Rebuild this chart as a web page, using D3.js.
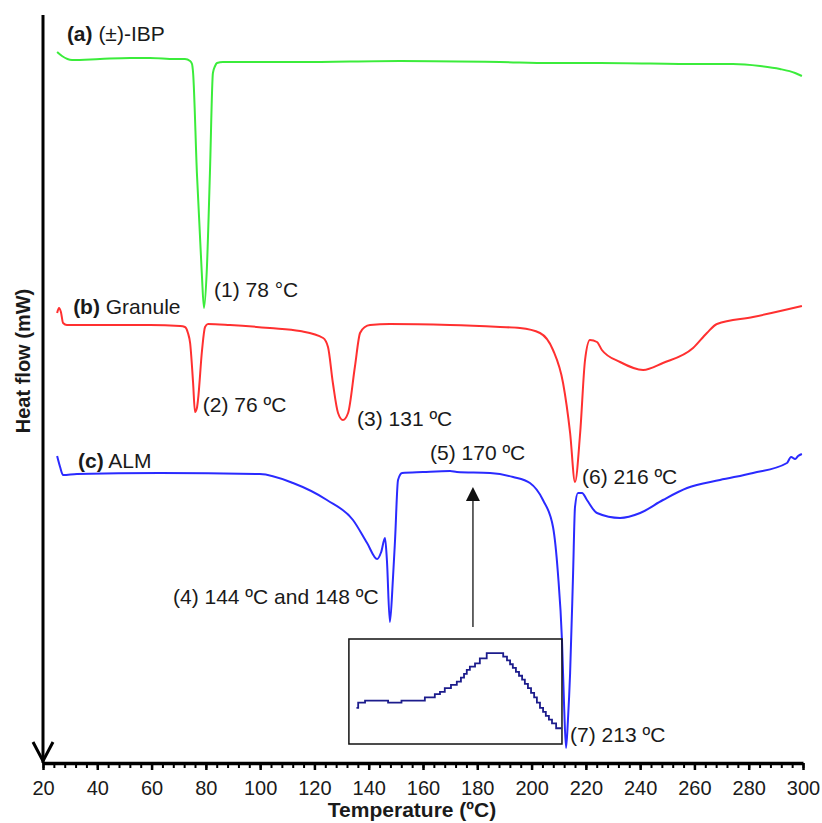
<!DOCTYPE html>
<html><head><meta charset="utf-8">
<script src="https://cdn.jsdelivr.net/npm/d3@7"></script>
<style>
body{margin:0;background:#fff}
svg{display:block}
text{font-family:"Liberation Sans",Arial,Helvetica,sans-serif;fill:#1a1a1a}
</style>
</head><body><svg id="c" width="822" height="823"></svg>
<script>
// ---- data (temperature in ºC, heat flow in arbitrary offset units) ----
const ibpT  = [25.2,27.0,30.7,41.0,52.1,59.4,68.6,72.3,74.2,74.9,75.3,76.7,78.5,79.3,80.3,81.5,82.6,83.4,84.1,86.3,114.7,151.5,188.4,206.8,225.2,262.1,274.2,284.2,291.5,297.1,299.6];
const ibpHF = [713,709,705,706,707,707,706,706,704,701,692,592,492,457,492,592,692,699,702,703,703,704,703,702,702,701,701,699,696,692,689];

const graT  = [25.2,25.9,26.6,27.4,28.8,41.0,59.4,70.5,72.3,73.4,74.2,75.3,76.0,76.7,77.1,78.6,79.7,80.8,88.9,103.6,114.7,123.2,125.0,126.8,128.7,130.5,132.4,134.9,136.8,138.6,140.5,147.8,169.9,188.4,195.7,203.1,207.9,211.6,214.2,216.0,217.9,219.7,221.5,224.1,225.9,232.6,241.1,248.4,259.5,264.6,268.3,281.6,299.6];
const graHF = [452,457,453,442,440,440,440,439,438,432,422,382,353,357,365,415,438,441,440,437,434,427,418,382,352,345,352,398,432,438,440,441,440,438,437,432,415,382,332,283,332,405,425,423,415,403,395,402,417,432,441,448,459];

const almT  = [25.2,26.3,27.4,32.5,63.1,99.9,112.1,124.6,134.2,139.4,143.1,144.6,146.0,146.7,147.8,148.9,149.7,150.8,152.3,160.0,170.0,172.5,184.7,193.2,199.4,204.2,207.9,209.7,211.2,212.0,212.7,213.4,214.2,215.3,216.0,217.1,218.6,220.4,224.1,232.6,240.0,248.4,257.3,269.4,281.6,294.1,295.6,297.1,298.2,299.6];
const almHF = [309,298,290,291,292,291,282,265,245,222,206,213,227,205,143,185,225,285,292,293,294,293,292,288,282,265,238,192,125,58,17,45,92,192,258,272,272,265,252,247,252,265,277,285,292,302,308,306,309,311];

// inset: magnified region around (5) 170 ºC
const insetT   = [152.2,152.7,154.7,161.4,165.3,172.1,175.0,176.5,177.9,179.7,181.4,182.6,183.5,184.3,185.2,186.7,188.1,190.1,194.9,196.0,196.9,197.7,198.6,199.5,200.4,201.2,202.1,203.0,203.9,204.7,205.6,206.5,207.3,208.2,209.1,210.3,211.9];
const insetLvl = [11,12.6,13.2,12.6,13.2,14.2,15.2,15.9,17,18,19,20.2,21.4,22.6,23.6,24.6,26.1,27.7,26.6,25.5,24.3,23.2,22,20.8,19.6,18.3,17,15.6,14.2,12.6,11,9.8,8.6,7.4,6.3,4.8,4.8];

const xTicks = [20,40,60,80,100,120,140,160,180,200,220,240,260,280,300];

const seriesLabels = [
  {tag:"(a)", name:"(±)-IBP", T:28.8, v:724},
  {tag:"(b)", name:"Granule", T:31.1, v:451},
  {tag:"(c)", name:"ALM", T:32.9, v:297}
];
const peakLabels = [
  {text:"(1) 78 °C", T:83.0, v:468},
  {text:"(2) 76 ºC", T:78.9, v:353},
  {text:"(3) 131 ºC", T:135.7, v:339},
  {text:"(4) 144 ºC and 148 ºC", T:67.9, v:161},
  {text:"(5) 170 ºC", T:162.6, v:305},
  {text:"(6) 216 ºC", T:218.6, v:281},
  {text:"(7) 213 ºC", T:214.2, v:23}
];

// ---- drawing ----
const svg = d3.select("#c");
const x = d3.scaleLinear().domain([20,300]).range([43,803]);
const y = d3.scaleLinear().domain([0,750]).range([765,15]);
const axisY = 763;

const line = d3.line().x(d=>x(d[0])).y(d=>y(d[1])).curve(d3.curveMonotoneX);
function draw(T, V, color){
  svg.append("path").datum(T.map((t,i)=>[t,V[i]]))
    .attr("d", line).attr("fill","none").attr("stroke",color)
    .attr("stroke-width",2).attr("stroke-linejoin","round");
}
draw(ibpT, ibpHF, "#3bec3b");
draw(graT, graHF, "#ff3030");
draw(almT, almHF, "#2a2aff");

// inset box
const boxT = [132.7, 211.2], boxV = [21, 126];
svg.append("rect")
  .attr("x", x(boxT[0])).attr("y", y(boxV[1]))
  .attr("width", x(boxT[1])-x(boxT[0])).attr("height", y(boxV[0])-y(boxV[1]))
  .attr("fill","none").attr("stroke","#111").attr("stroke-width",1.5);
const ix = d3.scaleLinear().domain([150,212]).range([x(boxT[0]), x(boxT[1])]);
const iy = d3.scaleLinear().domain([0,32]).range([y(boxV[0]), y(boxV[1])]);
svg.append("path").datum(insetT.map((t,i)=>[t,insetLvl[i]]))
  .attr("d", d3.line().x(d=>ix(d[0])).y(d=>iy(d[1])).curve(d3.curveStepAfter))
  .attr("fill","none").attr("stroke","#1c1c8c").attr("stroke-width",1.8);

// arrow from inset to peak (5)
const arrowT = 178.4;
svg.append("line").attr("x1",x(arrowT)).attr("x2",x(arrowT))
  .attr("y1",y(138)).attr("y2",y(266)).attr("stroke","#333").attr("stroke-width",1.5);
svg.append("path")
  .attr("d",`M${x(arrowT)},${y(278)} L${x(arrowT)-7},${y(264)} L${x(arrowT)+7},${y(264)} Z`)
  .attr("fill","#111");

// bottom axis: minor + major ticks
const minor = d3.range(20,301,4);
svg.append("g").attr("transform",`translate(0,${axisY})`)
  .call(d3.axisBottom(x).tickValues(minor).tickSize(5).tickSizeOuter(0).tickFormat(""))
  .call(g=>g.select(".domain").remove())
  .call(g=>g.selectAll("line").attr("stroke","#000").attr("stroke-width",2));
const gx = svg.append("g").attr("transform",`translate(0,${axisY})`)
  .call(d3.axisBottom(x).tickValues(xTicks).tickSize(7).tickPadding(11).tickSizeOuter(0));
gx.select(".domain").attr("stroke","#000").attr("stroke-width",3.5);
gx.selectAll(".tick line").attr("stroke","#000").attr("stroke-width",2.5);
gx.selectAll(".tick text").attr("font-size",20).attr("font-family",'"Liberation Sans",Arial,sans-serif').attr("fill","#1a1a1a");

// vertical axis with arrow
svg.append("line").attr("x1",43).attr("x2",43).attr("y1",15).attr("y2",axisY)
  .attr("stroke","#000").attr("stroke-width",3);
svg.append("path").attr("d",`M33,742 L43,761 L53,742`)
  .attr("fill","none").attr("stroke","#000").attr("stroke-width",3);

// axis titles
svg.append("text").attr("x",412).attr("y",817).attr("text-anchor","middle")
  .attr("font-size",21).attr("font-weight","bold").text("Temperature (ºC)");
svg.append("text").attr("transform","translate(30,361) rotate(-90)").attr("text-anchor","middle")
  .attr("font-size",20).attr("font-weight","bold").text("Heat flow (mW)");

// series labels
seriesLabels.forEach(s=>{
  const t = svg.append("text").attr("x",x(s.T)).attr("y",y(s.v)).attr("font-size",21);
  t.append("tspan").attr("font-weight","bold").text(s.tag);
  t.append("tspan").text(" " + s.name);
});
// peak labels
peakLabels.forEach(p=>{
  svg.append("text").attr("x",x(p.T)).attr("y",y(p.v)).attr("font-size",21).text(p.text);
});
</script>
</body></html>
